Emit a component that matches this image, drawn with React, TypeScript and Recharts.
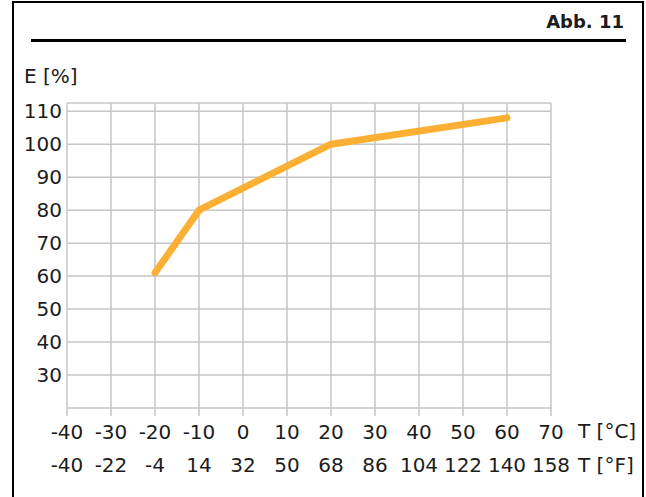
import React from 'react';
import { LineChart, Line, XAxis, YAxis, CartesianGrid } from 'recharts';

// temperature in °C vs. relative capacity E in %
const tempC = [-20, -10, 20, 60];
const capacity = [61, 80, 100, 108];

const celsiusTicks = [-40, -30, -20, -10, 0, 10, 20, 30, 40, 50, 60, 70];
const fahrenheitLabels = ['-40', '-22', '-4', '14', '32', '50', '68', '86', '104', '122', '140', '158'];
const yTicks = [20, 30, 40, 50, 60, 70, 80, 90, 100, 110];

const data = tempC.map((t, i) => ({ t, e: capacity[i] }));

const FONT = '"DejaVu Sans", sans-serif';
const INK = '#1c1c1c';
const GRID = '#c6c6c6';

const App: React.FC = () => {
  const tickStyle = { fill: INK, fontSize: 20, fontFamily: FONT };

  return (
    <div style={{ position: 'absolute', left: 0, top: 0, width: 646, height: 497, background: '#fff', fontFamily: FONT, color: INK }}>
      {/* frame */}
      <div style={{ position: 'absolute', left: 12, top: 1, width: 628, height: 520, borderLeft: '2.5px solid #000', borderTop: '2.5px solid #000', borderRight: '2.5px solid #000' }} />
      <div style={{ position: 'absolute', right: 22, top: 10, fontSize: 18, fontWeight: 700, lineHeight: '24px' }}>Abb. 11</div>
      <div style={{ position: 'absolute', left: 31, top: 39, width: 595, height: 2.5, background: '#000' }} />

      <div style={{ position: 'absolute', left: 24, top: 63, fontSize: 20, lineHeight: '26px' }}>E [%]</div>
      <div style={{ position: 'absolute', left: 578, top: 418, fontSize: 20, lineHeight: '26px' }}>T [°C]</div>
      <div style={{ position: 'absolute', left: 578, top: 452, fontSize: 20, lineHeight: '26px' }}>T [°F]</div>

      <LineChart width={646} height={497} data={data} margin={{ top: 103, right: 95, bottom: 21, left: 12 }}>
        <CartesianGrid xAxisId="c" stroke={GRID} strokeWidth={1.5} />
        <XAxis
          xAxisId="c"
          dataKey="t"
          type="number"
          domain={[-40, 70]}
          ticks={celsiusTicks}
          interval={0}
          height={34}
          axisLine={false}
          tickLine={{ stroke: GRID, strokeWidth: 1.5 }}
          tickSize={8}
          tickMargin={9}
          tick={tickStyle}
        />
        <XAxis
          xAxisId="f"
          dataKey="t"
          type="number"
          domain={[-40, 70]}
          ticks={celsiusTicks}
          interval={0}
          height={34}
          axisLine={false}
          tickLine={false}
          tickSize={0}
          tickMargin={16}
          tick={tickStyle}
          tickFormatter={(_v: number, i: number) => fahrenheitLabels[i]}
        />
        <YAxis
          type="number"
          domain={[20, 112.5]}
          ticks={yTicks}
          interval={0}
          width={55}
          axisLine={false}
          tickLine={false}
          tickSize={0}
          tickMargin={5}
          tick={tickStyle}
          tickFormatter={(v: number) => (v === 20 ? '' : String(v))}
        />
        <Line
          xAxisId="c"
          dataKey="e"
          type="linear"
          stroke="#FBB034"
          strokeWidth={7}
          strokeLinecap="round"
          strokeLinejoin="round"
          dot={false}
          isAnimationActive={false}
        />
      </LineChart>
    </div>
  );
};

export default App;
